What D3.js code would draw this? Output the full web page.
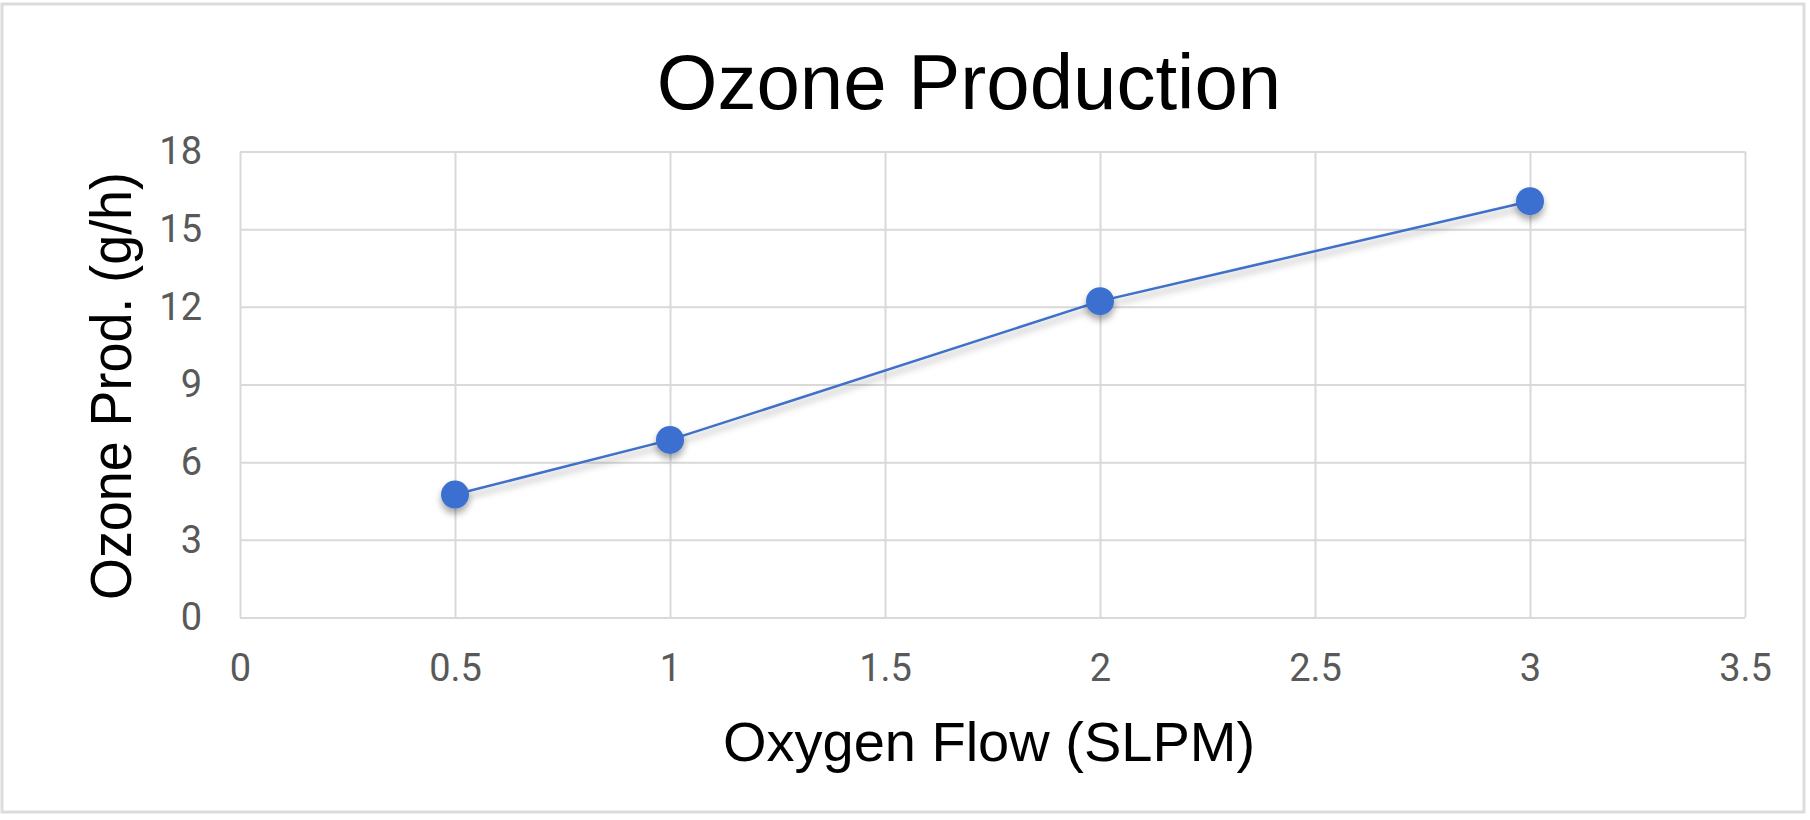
<!DOCTYPE html>
<html>
<head>
<meta charset="utf-8">
<script src="https://cdn.jsdelivr.net/npm/d3@7"></script>
<style>
  body { margin: 0; background: #fff; }
  svg { display: block; }
</style>
</head>
<body>
<svg width="1810" height="820"></svg>
<script>
// данные графика
const flow = [0.5, 1, 2, 3];              // Oxygen Flow (SLPM)
const ozone = [4.75, 6.86, 12.22, 16.08]; // Ozone Prod. (g/h)
const xTicks = [0, 0.5, 1, 1.5, 2, 2.5, 3, 3.5];
const yTicks = [0, 3, 6, 9, 12, 15, 18];

const title = "Ozone Production";
const xLabel = "Oxygen Flow (SLPM)";
const yLabel = "Ozone Prod. (g/h)";

const svg = d3.select("svg");

const area = { left: 240, right: 1745, top: 151.5, bottom: 617.5 };
const plotW = area.right - area.left;
const plotH = area.bottom - area.top;

// рамка вокруг всего графика
svg.append("rect")
   .attr("x", 2).attr("y", 4)
   .attr("width", 1802).attr("height", 808)
   .attr("fill", "#fff")
   .attr("stroke", "#dcdcdc")
   .attr("stroke-width", 3);

// тень для линии и точек
const defs = svg.append("defs");
defs.append("filter")
    .attr("id", "shadow")
    .attr("x", "-20%").attr("y", "-20%")
    .attr("width", "140%").attr("height", "160%")
    .append("feDropShadow")
    .attr("dx", 0).attr("dy", 5)
    .attr("stdDeviation", 3.5)
    .attr("flood-color", "#000")
    .attr("flood-opacity", 0.35);

// шкалы
const scaleX = d3.scaleLinear().domain([0, 3.5]).range([0, plotW]);
const scaleY = d3.scaleLinear().domain([0, 18]).range([plotH, 0]);

const g = svg.append("g")
    .attr("transform", `translate(${area.left}, ${area.top})`);

// ось X с сеткой
const axisX = g.append("g")
    .attr("transform", `translate(0, ${plotH})`)
    .call(d3.axisBottom(scaleX)
        .tickValues(xTicks)
        .tickFormat(d3.format("~g"))
        .tickSize(-plotH)
        .tickPadding(36.5));

// ось Y с сеткой
const axisY = g.append("g")
    .call(d3.axisLeft(scaleY)
        .tickValues(yTicks)
        .tickSize(-plotW)
        .tickPadding(38));

[axisX, axisY].forEach(ax => {
    ax.select(".domain").remove();
    ax.selectAll("line")
      .attr("stroke", "#d9d9d9")
      .attr("stroke-width", 2);
    ax.selectAll("text")
      .attr("fill", "#595959")
      .style("font-family", "Roboto, sans-serif")
      .style("font-size", "38px");
});

// линия
const line = d3.line()
    .x((d, i) => scaleX(flow[i]))
    .y(d => scaleY(d));

g.append("path")
 .datum(ozone)
 .attr("fill", "none")
 .attr("stroke", "#4170c8")
 .attr("stroke-width", 2.5)
 .attr("filter", "url(#shadow)")
 .attr("d", line);

// точки
g.selectAll(".dot")
 .data(ozone)
 .enter()
 .append("circle")
 .attr("class", "dot")
 .attr("cx", (d, i) => scaleX(flow[i]))
 .attr("cy", d => scaleY(d))
 .attr("r", 14)
 .attr("fill", "#3b6fd0")
 .attr("filter", "url(#shadow)");

// заголовок
svg.append("text")
   .attr("x", 969).attr("y", 108.7)
   .attr("text-anchor", "middle")
   .style("font-family", "'Liberation Sans', Arial, sans-serif")
   .style("font-size", "78px")
   .attr("fill", "#000")
   .text(title);

// подпись оси X
svg.append("text")
   .attr("x", 989).attr("y", 761)
   .attr("text-anchor", "middle")
   .style("font-family", "'Liberation Sans', Arial, sans-serif")
   .style("font-size", "56px")
   .attr("fill", "#000")
   .text(xLabel);

// подпись оси Y
svg.append("text")
   .attr("transform", "translate(131, 386) rotate(-90)")
   .attr("text-anchor", "middle")
   .attr("textLength", 428)
   .attr("lengthAdjust", "spacingAndGlyphs")
   .style("font-family", "'Liberation Sans', Arial, sans-serif")
   .style("font-size", "58px")
   .attr("fill", "#000")
   .text(yLabel);
</script>
</body>
</html>
